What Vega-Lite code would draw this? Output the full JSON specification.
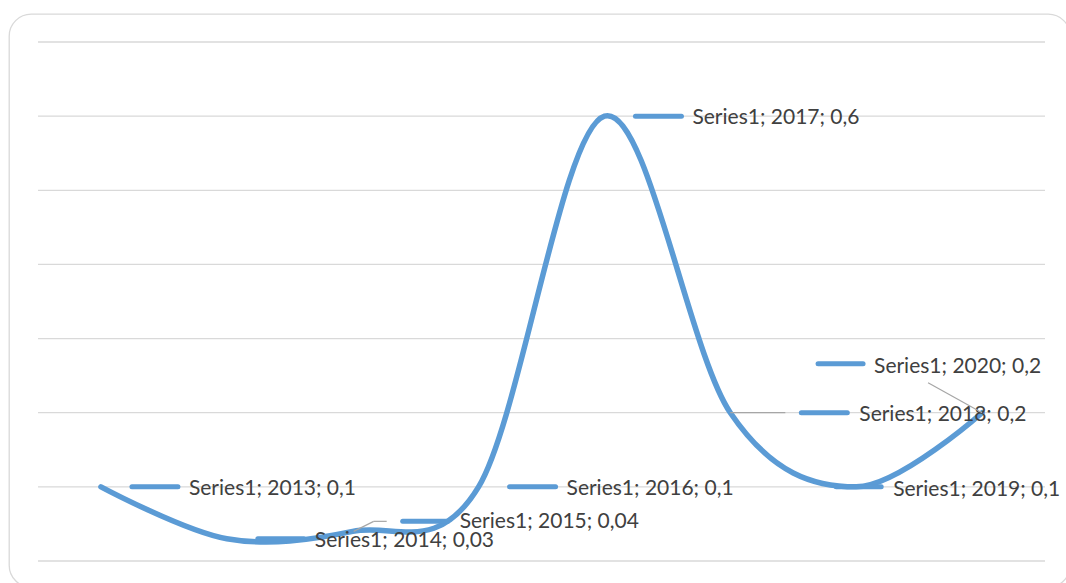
{
  "$schema": "https://vega.github.io/schema/vega-lite/v6.json",
  "width": 1061,
  "height": 573,
  "autosize": {"type": "none"},
  "padding": {"left": 9, "top": 14, "right": -4, "bottom": -4},
  "background": "white",
  "config": {
    "view": {"stroke": "#d9d9d9", "strokeWidth": 1.3, "cornerRadius": 22},
    "text": {"font": "Lato", "fontSize": 21, "color": "#404040", "align": "left", "baseline": "alphabetic"}
  },
  "data": {"values": [
      {"year": 2013, "value": 0.1, "label": "Series1; 2013; 0,1"},
      {"year": 2014, "value": 0.03, "label": "Series1; 2014; 0,03"},
      {"year": 2015, "value": 0.04, "label": "Series1; 2015; 0,04"},
      {"year": 2016, "value": 0.1, "label": "Series1; 2016; 0,1"},
      {"year": 2017, "value": 0.6, "label": "Series1; 2017; 0,6"},
      {"year": 2018, "value": 0.2, "label": "Series1; 2018; 0,2"},
      {"year": 2019, "value": 0.1, "label": "Series1; 2019; 0,1"},
      {"year": 2020, "value": 0.2, "label": "Series1; 2020; 0,2"}
  ]},
  "encoding": {
    "x": {"field": "year", "type": "quantitative", "axis": null, "scale": {"domain": [2012.5, 2020.5], "range": [29, 1036], "nice": false, "zero": false}},
    "y": {"field": "value", "type": "quantitative", "axis": null, "scale": {"domain": [0, 0.7], "range": [547, 28], "nice": false, "zero": false}}
  },
  "layer": [
    {
      "data": {"values": [{"v": 0}, {"v": 0.1}, {"v": 0.2}, {"v": 0.3}, {"v": 0.4}, {"v": 0.5}, {"v": 0.6}, {"v": 0.7}]},
      "transform": [{"calculate": "2012.5", "as": "a"}, {"calculate": "2020.5", "as": "b"}],
      "mark": {"type": "rule", "stroke": "#d9d9d9", "strokeWidth": 1.3},
      "encoding": {
        "y": {"field": "v", "type": "quantitative"},
        "x": {"field": "a", "type": "quantitative"},
        "x2": {"field": "b"}
      }
    },
    {
      "mark": {"type": "line", "interpolate": "cardinal", "stroke": "#5b9bd5", "strokeWidth": 5.5, "strokeCap": "round"}
    },
    {
      "transform": [{"filter": "datum.year == 2013 || datum.year == 2014 || datum.year == 2016 || datum.year == 2017"}],
      "mark": {"type": "rule", "stroke": "#5b9bd5", "strokeWidth": 5, "strokeCap": "round", "xOffset": 31, "x2Offset": 77},
      "encoding": {"x2": {"field": "year"}, "y2": {"field": "value"}}
    },
    {
      "transform": [{"filter": "datum.year == 2013 || datum.year == 2014 || datum.year == 2016 || datum.year == 2017"}],
      "mark": {"type": "text", "dx": 88, "dy": 8},
      "encoding": {"text": {"field": "label"}}
    },
    {
      "transform": [{"filter": "datum.year == 2015"}],
      "mark": {"type": "rule", "stroke": "#a6a6a6", "strokeWidth": 1.2, "xOffset": 1, "x2Offset": 21, "y2Offset": -10},
      "encoding": {"x2": {"field": "year"}, "y2": {"field": "value"}}
    },
    {
      "transform": [{"filter": "datum.year == 2015"}],
      "mark": {"type": "rule", "stroke": "#a6a6a6", "strokeWidth": 1.2, "xOffset": 21, "yOffset": -10, "x2Offset": 34, "y2Offset": -10},
      "encoding": {"x2": {"field": "year"}, "y2": {"field": "value"}}
    },
    {
      "transform": [{"filter": "datum.year == 2015"}],
      "mark": {"type": "rule", "stroke": "#5b9bd5", "strokeWidth": 5, "strokeCap": "round", "xOffset": 50, "x2Offset": 95, "yOffset": -10, "y2Offset": -10},
      "encoding": {"x2": {"field": "year"}, "y2": {"field": "value"}}
    },
    {
      "transform": [{"filter": "datum.year == 2015"}],
      "mark": {"type": "text", "dx": 107, "dy": -3},
      "encoding": {"text": {"field": "label"}}
    },
    {
      "transform": [{"filter": "datum.year == 2018"}],
      "mark": {"type": "rule", "stroke": "#a6a6a6", "strokeWidth": 1.2, "x2Offset": 55},
      "encoding": {"x2": {"field": "year"}, "y2": {"field": "value"}}
    },
    {
      "transform": [{"filter": "datum.year == 2018"}],
      "mark": {"type": "rule", "stroke": "#5b9bd5", "strokeWidth": 5, "strokeCap": "round", "xOffset": 71, "x2Offset": 117},
      "encoding": {"x2": {"field": "year"}, "y2": {"field": "value"}}
    },
    {
      "transform": [{"filter": "datum.year == 2018"}],
      "mark": {"type": "text", "dx": 129, "dy": 8},
      "encoding": {"text": {"field": "label"}}
    },
    {
      "transform": [{"filter": "datum.year == 2019"}],
      "mark": {"type": "rule", "stroke": "#5b9bd5", "strokeWidth": 5, "strokeCap": "round", "xOffset": -20, "x2Offset": 25},
      "encoding": {"x2": {"field": "year"}, "y2": {"field": "value"}}
    },
    {
      "transform": [{"filter": "datum.year == 2019"}],
      "mark": {"type": "text", "dx": 37, "dy": 9},
      "encoding": {"text": {"field": "label"}}
    },
    {
      "transform": [{"filter": "datum.year == 2020"}],
      "mark": {"type": "rule", "stroke": "#a6a6a6", "strokeWidth": 1.2, "x2Offset": -54, "y2Offset": -30},
      "encoding": {"x2": {"field": "year"}, "y2": {"field": "value"}}
    },
    {
      "transform": [{"filter": "datum.year == 2020"}],
      "mark": {"type": "rule", "stroke": "#5b9bd5", "strokeWidth": 5, "strokeCap": "round", "xOffset": -164, "x2Offset": -119, "yOffset": -49, "y2Offset": -49},
      "encoding": {"x2": {"field": "year"}, "y2": {"field": "value"}}
    },
    {
      "transform": [{"filter": "datum.year == 2020"}],
      "mark": {"type": "text", "dx": -108, "dy": -40},
      "encoding": {"text": {"field": "label"}}
    }
  ]
}
